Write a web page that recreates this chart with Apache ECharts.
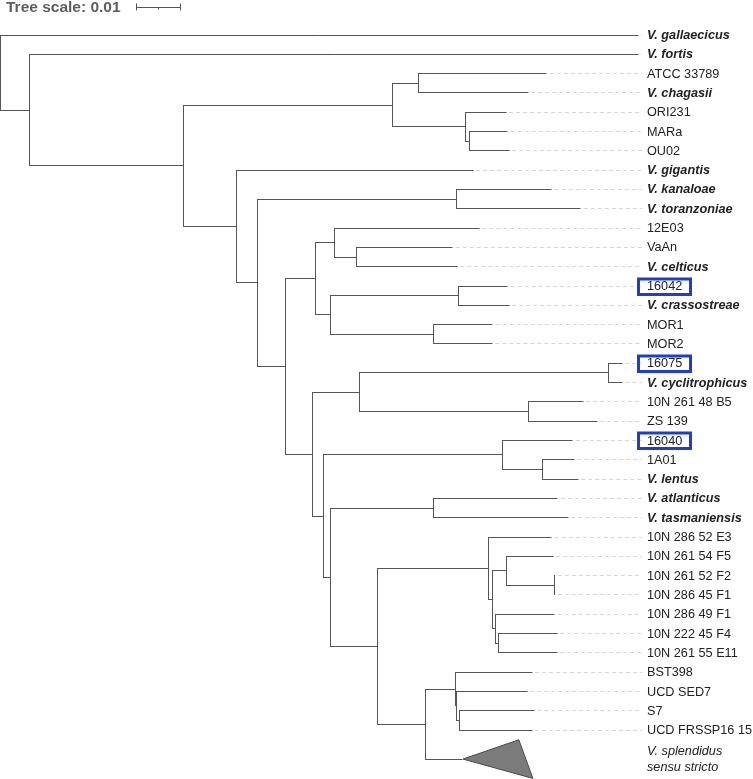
<!DOCTYPE html>
<html>
<head>
<meta charset="utf-8">
<script src="https://cdn.jsdelivr.net/npm/echarts@6/dist/echarts.min.js"></script>
<style>html,body{margin:0;padding:0;background:#fff}#c{width:753px;height:779px}</style>
</head>
<body>
<div id="c"></div>
<script>
// ---------- data ----------
const leafNames = ['V. gallaecicus','V. fortis','ATCC 33789','V. chagasii','ORI231','MARa','OU02','V. gigantis',
  'V. kanaloae','V. toranzoniae','12E03','VaAn','V. celticus','16042','V. crassostreae','MOR1','MOR2','16075',
  'V. cyclitrophicus','10N 261 48 B5','ZS 139','16040','1A01','V. lentus','V. atlanticus','V. tasmaniensis',
  '10N 286 52 E3','10N 261 54 F5','10N 261 52 F2','10N 286 45 F1','10N 286 49 F1','10N 222 45 F4','10N 261 55 E11',
  'BST398','UCD SED7','S7','UCD FRSSP16 15','V. splendidus\nsensu stricto'];
const leafKind = ['species','species','strain','species','strain','strain','strain','species',
  'species','species','strain','strain','species','strain','species','strain','strain','strain',
  'species','strain','strain','strain','strain','species','species','species',
  'strain','strain','strain','strain','strain','strain','strain',
  'strain','strain','strain','strain','clade'];
// distance from root (substitutions per site)
const leafDepth = [0.1449,0.1449,0.1242,0.1199,0.1149,0.1153,0.1156,0.1074,
  0.1253,0.1319,0.1088,0.1028,0.1038,0.1153,0.1156,0.1119,0.1118,0.1413,
  0.1413,0.1324,0.1356,0.1301,0.1304,0.1313,0.1267,0.1290,
  0.1253,0.1256,0.1260,0.1260,0.1260,0.1265,0.1265,
  0.1208,0.1197,0.1213,0.1208,0.1051];
const cladeTipDepth = [0.1178, 0.1210];   // collapsed clade: shallowest / deepest tip
const boxedLeaves = ['16042','16075','16040'];

const nodeIds = ['#root','#A','#B','#C','#C1','#C2','#C3','#D','#E','#F','#G','#H','#H1','#H1a','#H2','#H2a','#H2b',
  '#I','#J','#J1','#J2','#K','#L','#L1','#M','#N','#O','#P','#P1','#P2','#P2a','#P3','#P4','#Q','#R','#R1','#R2'];
const nodeDepth = [0,0.0065,0.0415,0.0890,0.0951,0.1056,0.1067,0.0537,0.0585,0.1037,0.0647,0.0717,0.0760,0.0810,0.0751,0.1040,0.0983,
  0.0708,0.0815,0.1381,0.1201,0.0735,0.1142,0.1231,0.0749,0.0983,0.0856,0.1110,0.1118,0.1151,0.1260,0.1124,0.1131,0.0967,0.1035,0.1037,0.1044];
const nodeChildren = [
  ['V. gallaecicus','#A'], ['V. fortis','#B'], ['#C','#D'], ['#C1','#C2'], ['ATCC 33789','V. chagasii'],
  ['ORI231','#C3'], ['MARa','OU02'], ['V. gigantis','#E'], ['#F','#G'], ['V. kanaloae','V. toranzoniae'],
  ['#H','#I'], ['#H1','#H2'], ['12E03','#H1a'], ['VaAn','V. celticus'], ['#H2a','#H2b'], ['16042','V. crassostreae'],
  ['MOR1','MOR2'], ['#J','#K'], ['#J1','#J2'], ['16075','V. cyclitrophicus'], ['10N 261 48 B5','ZS 139'],
  ['#L','#M'], ['16040','#L1'], ['1A01','V. lentus'], ['#N','#O'], ['V. atlanticus','V. tasmaniensis'],
  ['#P','#Q'], ['10N 286 52 E3','#P1'], ['#P2','#P3'], ['10N 261 54 F5','#P2a'], ['10N 261 52 F2','10N 286 45 F1'],
  ['10N 286 49 F1','#P4'], ['10N 222 45 F4','10N 261 55 E11'], ['#R','V. splendidus\nsensu stricto'],
  ['BST398','#R1'], ['UCD SED7','#R2'], ['S7','UCD FRSSP16 15']];
const scaleLength = 0.01;
const scaleTitle = 'Tree scale: 0.01';

// ---------- layout from data ----------
const rowOfMap = {}, depthOf = {}, childrenOf = {};
let cursor = 0;
leafNames.forEach((n, i) => {
  const span = leafKind[i] === 'clade' ? 2 : 1;
  rowOfMap[n] = cursor + (span - 1) / 2;
  depthOf[n] = leafDepth[i];
  cursor += span;
});
nodeIds.forEach((id, i) => { depthOf[id] = nodeDepth[i]; childrenOf[id] = nodeChildren[i]; });
function rowOf(id) {
  if (rowOfMap[id] !== undefined) return rowOfMap[id];
  const c = childrenOf[id];
  return (rowOfMap[id] = (rowOf(c[0]) + rowOf(c[c.length - 1])) / 2);
}
const hData = [], vData = [];
nodeIds.forEach(id => {
  const kids = childrenOf[id];
  vData.push([depthOf[id], rowOf(kids[0]), rowOf(kids[kids.length - 1])]);
  kids.forEach(k => hData.push([depthOf[id], depthOf[k], rowOf(k)]));
});
const leaderData = [], labelData = [];
leafNames.forEach((n, i) => {
  if (leafKind[i] !== 'clade') leaderData.push([leafDepth[i], rowOf(n)]);
  labelData.push([0, rowOf(n), i]);
});
const cladeIdx = leafKind.indexOf('clade');
const cladeData = [[leafDepth[cladeIdx], rowOf(leafNames[cladeIdx]), cladeTipDepth[0], cladeTipDepth[1]]];

// ---------- rendering ----------
const LINE = '#555';
const FONT = 'Liberation Sans, Arial, sans-serif';
const LABEL_X = 647, LEADER_END = 642;
const snap = v => Math.round(v - 0.5) + 0.5;

const chart = echarts.init(document.getElementById('c'), null, {renderer: 'canvas'});
chart.setOption({
  animation: false,
  grid: {left: 0.5, top: 15.7, width: 660, height: 762.7},
  xAxis: {type: 'value', min: 0, max: 0.15, show: false},
  yAxis: {type: 'value', min: -1, max: 38.5, inverse: true, show: false},
  series: [
    { // leader dashes
      type: 'custom', clip: false, silent: true, data: leaderData, encode: {x: 0, y: 1},
      renderItem: (p, api) => {
        const a = api.coord([api.value(0), api.value(1)]);
        return {type: 'line', shape: {x1: a[0] + 3, y1: snap(a[1]), x2: LEADER_END, y2: snap(a[1])},
          style: {stroke: '#d6d6d6', lineWidth: 1, lineDash: [4, 3]}};
      }
    },
    { // horizontal branches
      type: 'custom', clip: false, silent: true, data: hData, encode: {x: [0, 1], y: 2},
      renderItem: (p, api) => {
        const a = api.coord([api.value(0), api.value(2)]);
        const b = api.coord([api.value(1), api.value(2)]);
        return {type: 'line', shape: {x1: snap(a[0]) - 0.5, y1: snap(a[1]), x2: snap(b[0]), y2: snap(b[1])},
          style: {stroke: LINE, lineWidth: 1}};
      }
    },
    { // vertical connectors
      type: 'custom', clip: false, silent: true, data: vData, encode: {x: 0, y: [1, 2]},
      renderItem: (p, api) => {
        const a = api.coord([api.value(0), api.value(1)]);
        const b = api.coord([api.value(0), api.value(2)]);
        return {type: 'line', shape: {x1: snap(a[0]), y1: snap(a[1]) - 0.5, x2: snap(b[0]), y2: snap(b[1]) + 0.5},
          style: {stroke: LINE, lineWidth: 1}};
      }
    },
    { // collapsed clade triangle
      type: 'custom', clip: false, silent: true, data: cladeData, encode: {x: [0, 2, 3], y: 1},
      renderItem: (p, api) => {
        const r = api.value(1);
        const apex = api.coord([api.value(0), r]);
        const t = api.coord([api.value(2), r - 1]);
        const b = api.coord([api.value(3), r + 1]);
        return {type: 'polygon', shape: {points: [apex, t, b]},
          style: {fill: '#7b7b7b', stroke: '#4a4a4a', lineWidth: 1}};
      }
    },
    { // leaf labels + highlight boxes
      type: 'custom', clip: false, silent: true, data: labelData, encode: {x: 0, y: 1},
      renderItem: (p, api) => {
        const i = api.value(2);
        const y = api.coord([0, api.value(1)])[1];
        const name = leafNames[i], kind = leafKind[i];
        const children = [{type: 'text', style: {
          x: LABEL_X, y: y + 0.5, text: name, fill: '#222', fontFamily: FONT, fontSize: 12.7,
          fontWeight: kind === 'species' ? 'bold' : 'normal',
          fontStyle: kind === 'strain' ? 'normal' : 'italic',
          lineHeight: 16, align: 'left', verticalAlign: 'middle'}}];
        if (boxedLeaves.indexOf(name) >= 0) {
          children.push({type: 'rect', shape: {x: 638.5, y: Math.round(y) - 7, width: 52, height: 15.5},
            style: {fill: 'none', stroke: '#1f3fc9', lineWidth: 3}});
        }
        return {type: 'group', children};
      }
    },
    { // tree scale
      type: 'custom', clip: false, silent: true, data: [[scaleLength, -1]], encode: {x: 0, y: 1},
      renderItem: (p, api) => {
        const len = api.size([api.value(0), 0])[0];
        const x0 = 136.5, x1 = x0 + len, y = 7.5;
        return {type: 'group', children: [
          {type: 'text', style: {x: 6, y: 8, text: scaleTitle, fill: '#5e5e5e', fontFamily: FONT,
            fontSize: 15.5, fontWeight: 'bold', align: 'left', verticalAlign: 'middle'}},
          {type: 'line', shape: {x1: x0, y1: y, x2: x1, y2: y}, style: {stroke: LINE, lineWidth: 1}},
          {type: 'line', shape: {x1: x0, y1: 3.5, x2: x0, y2: 10.5}, style: {stroke: LINE, lineWidth: 1}},
          {type: 'line', shape: {x1: x1, y1: 3.5, x2: x1, y2: 10.5}, style: {stroke: LINE, lineWidth: 1}},
          {type: 'line', shape: {x1: snap((x0 + x1) / 2), y1: 7, x2: snap((x0 + x1) / 2), y2: 9.5}, style: {stroke: LINE, lineWidth: 1}}
        ]};
      }
    }
  ]
});
</script>
</body>
</html>
